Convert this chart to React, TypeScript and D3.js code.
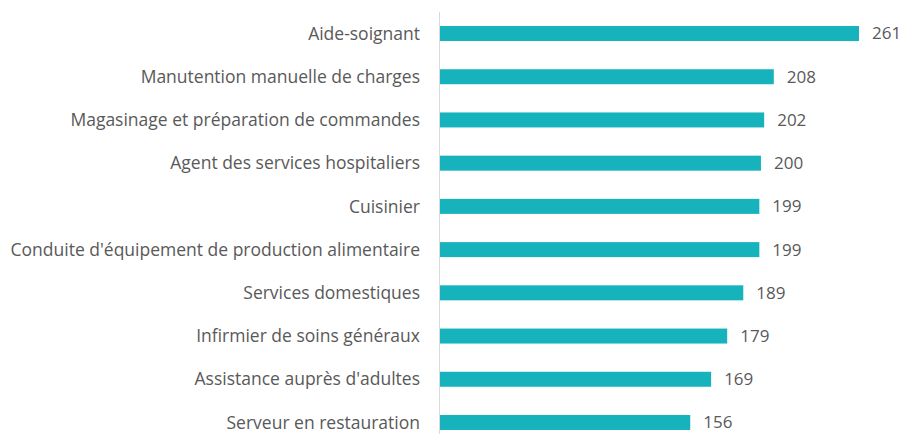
import { useEffect, useRef } from "react"
import * as d3 from "d3"

const categories = [
  "Aide-soignant",
  "Manutention manuelle de charges",
  "Magasinage et préparation de commandes",
  "Agent des services hospitaliers",
  "Cuisinier",
  "Conduite d'équipement de production alimentaire",
  "Services domestiques",
  "Infirmier de soins généraux",
  "Assistance auprès d'adultes",
  "Serveur en restauration",
]

const values = [261, 208, 202, 200, 199, 199, 189, 179, 169, 156]

export default function App() {
  const svgRef = useRef<SVGSVGElement>(null)

  useEffect(() => {
    if (!svgRef.current) return
    d3.select(svgRef.current).selectAll("*").remove()

    const W = 905
    const H = 434
    const axisX = 439.5

    const svg = d3.select(svgRef.current).attr("width", W).attr("height", H)

    // Scales
    const x = d3.scaleLinear().domain([0, 261]).range([axisX, 859])
    const y = d3
      .scaleBand<string>()
      .domain(categories)
      .range([11.9, 444.1])
      .paddingInner(0.653)
      .paddingOuter(0.3265)

    const rows = categories.map((c, i) => ({ cat: c, val: values[i] }))

    // Bars
    svg
      .selectAll(".bar")
      .data(rows)
      .enter()
      .append("rect")
      .attr("class", "bar")
      .attr("x", axisX)
      .attr("y", d => y(d.cat)!)
      .attr("width", d => x(d.val) - axisX)
      .attr("height", y.bandwidth())
      .attr("fill", "#17B3BD")

    // Vertical axis line
    svg
      .append("line")
      .attr("x1", axisX)
      .attr("x2", axisX)
      .attr("y1", 11.9)
      .attr("y2", H)
      .attr("stroke", "#D9D9D9")
      .attr("stroke-width", 1)

    // Category labels
    svg
      .selectAll(".cat")
      .data(rows)
      .enter()
      .append("text")
      .attr("class", "cat")
      .attr("x", 420)
      .attr("y", d => y(d.cat)! + y.bandwidth() / 2)
      .attr("dy", "0.35em")
      .attr("text-anchor", "end")
      .attr("fill", "#595959")
      .attr("font-family", "'Open Sans', sans-serif")
      .attr("font-size", "17.5px")
      .text(d => d.cat)

    // Value labels
    svg
      .selectAll(".val")
      .data(rows)
      .enter()
      .append("text")
      .attr("class", "val")
      .attr("x", d => x(d.val) + 13)
      .attr("y", d => y(d.cat)! + y.bandwidth() / 2)
      .attr("dy", "0.35em")
      .attr("fill", "#595959")
      .attr("font-family", "'Open Sans', sans-serif")
      .attr("font-size", "17px")
      .text(d => d.val)
  }, [])

  return (
    <div style={{ position: "absolute", left: 0, top: 0 }}>
      <svg ref={svgRef} style={{ display: "block" }} />
    </div>
  )
}
